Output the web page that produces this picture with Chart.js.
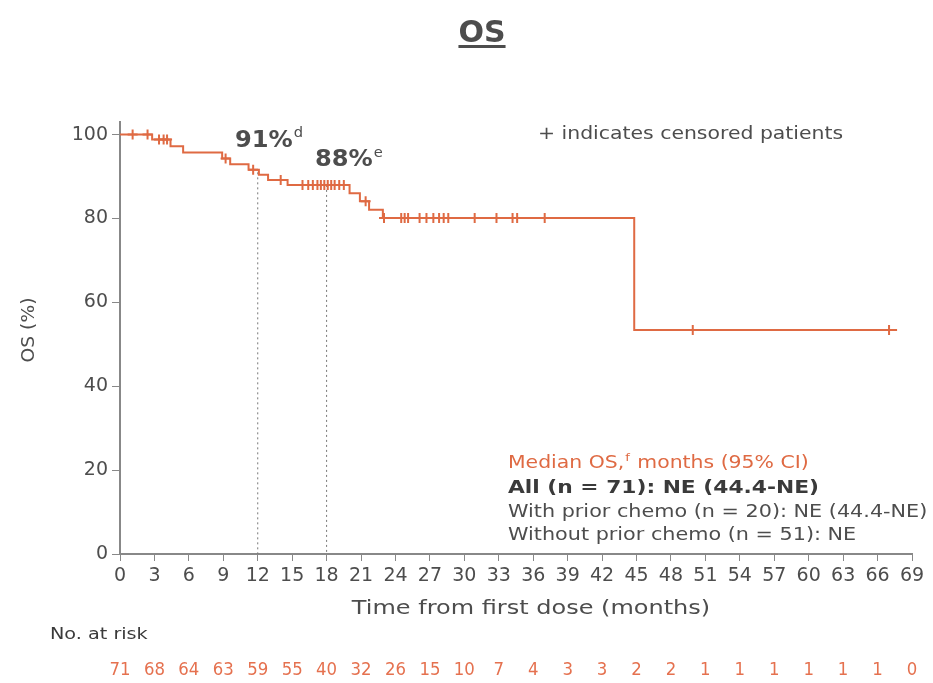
<!DOCTYPE html>
<html>
<head>
<meta charset="utf-8">
<script src="https://cdn.jsdelivr.net/npm/chart.js@4"></script>
<style>
  html, body { margin: 0; padding: 0; background: #fff; }
  #wrap { width: 933px; height: 683px; }
</style>
</head>
<body>
<div id="wrap"><canvas id="chart" width="933" height="683"></canvas></div>
<script>
// Kaplan-Meier steps (time in months, OS %)
const kmTimes = [0, 2.8, 4.4, 5.5, 8.9, 9.6, 11.2, 12.1, 12.9, 14.6, 20.0, 20.9, 21.7, 22.9, 44.8, 67.7];
const kmSurv  = [100, 98.8, 97.2, 95.7, 94.3, 92.9, 91.6, 90.4, 89.2, 88.0, 86.0, 84.1, 82.1, 80.1, 53.4, 53.4];

// censored patients
const censorTimes = [1.1, 2.4, 3.4, 3.8, 4.1, 9.2, 11.6, 14.0,
  15.9, 16.4, 16.8, 17.2, 17.5, 17.8, 18.1, 18.4, 18.7, 19.1, 19.5, 21.4,
  23.0, 24.5, 24.8, 25.1, 26.1, 26.7, 27.3, 27.8, 28.2, 28.6, 30.9, 32.8, 34.2, 34.6, 37.0,
  49.9, 67.0];
const censorSurv = [100, 100, 98.8, 98.8, 98.8, 94.3, 91.6, 89.2,
  88.0, 88.0, 88.0, 88.0, 88.0, 88.0, 88.0, 88.0, 88.0, 88.0, 88.0, 84.1,
  80.1, 80.1, 80.1, 80.1, 80.1, 80.1, 80.1, 80.1, 80.1, 80.1, 80.1, 80.1, 80.1, 80.1, 80.1,
  53.4, 53.4];

// landmark estimates
const landmarkTimes = [12, 18];
const landmarkSurv = [91, 88];
const landmarkLabels = ["91%", "88%"];
const landmarkNotes = ["d", "e"];

const xTicks = [0, 3, 6, 9, 12, 15, 18, 21, 24, 27, 30, 33, 36, 39, 42, 45, 48, 51, 54, 57, 60, 63, 66, 69];
const yTicks = [0, 20, 40, 60, 80, 100];
const atRisk = [71, 68, 64, 63, 59, 55, 40, 32, 26, 15, 10, 7, 4, 3, 3, 2, 2, 1, 1, 1, 1, 1, 1, 0];

const legendLines = [
  "All (n = 71): NE (44.4-NE)",
  "With prior chemo (n = 20): NE (44.4-NE)",
  "Without prior chemo (n = 51): NE"
];

const ORANGE = "#df6a43";
const GRAY = "#4d4d4d";
const FONT = "'DejaVu Sans', Verdana, sans-serif";
const STRETCH = 1.2;

function text(ctx, str, x, y, size, color, opts) {
  opts = opts || {};
  ctx.save();
  ctx.font = (opts.weight || "normal") + " " + size + "px " + FONT;
  ctx.fillStyle = color;
  ctx.textBaseline = "alphabetic";
  ctx.textAlign = opts.align || "left";
  ctx.translate(x, y);
  if (opts.rotate) ctx.rotate(opts.rotate);
  ctx.scale(opts.stretch || STRETCH, 1);
  ctx.fillText(str, 0, 0);
  const w = ctx.measureText(str).width * (opts.stretch || STRETCH);
  ctx.restore();
  return w;
}

const labelsPlugin = {
  id: "labels",
  afterDraw(chart) {
    const ctx = chart.ctx;
    const xs = chart.scales.x;

    // title
    const tw = text(ctx, "OS", 482, 42, 30, GRAY, {weight: "bold", align: "center", stretch: 1});
    ctx.fillStyle = GRAY;
    ctx.fillRect(482 - tw / 2, 45, tw, 3);

    // landmark labels
    let w = text(ctx, landmarkLabels[0], 235, 147, 23, GRAY, {weight: "bold", stretch: 1.05});
    text(ctx, landmarkNotes[0], 235 + w + 1, 137, 14, GRAY, {stretch: 1.05});
    w = text(ctx, landmarkLabels[1], 315, 166, 23, GRAY, {weight: "bold", stretch: 1.05});
    text(ctx, landmarkNotes[1], 315 + w + 1, 157, 14, GRAY, {stretch: 1.05});

    text(ctx, "+ indicates censored patients", 538, 139, 17, GRAY);

    // median box
    let x = 508;
    x += text(ctx, "Median OS,", x, 468, 17, ORANGE);
    x += text(ctx, "f", x + 1, 461, 11, ORANGE) + 2;
    text(ctx, " months (95% CI)", x, 468, 17, ORANGE);
    text(ctx, legendLines[0], 508, 493, 17, "#3a3a3a", {weight: "600", stretch: 1.28});
    text(ctx, legendLines[1], 508, 517, 17, GRAY, {stretch: 1.22});
    text(ctx, legendLines[2], 508, 540, 17, GRAY, {stretch: 1.22});

    // axis titles
    text(ctx, "Time from first dose (months)", 531, 614, 20, GRAY, {align: "center"});
    text(ctx, "OS (%)", 34, 330, 17, GRAY, {align: "center", rotate: -Math.PI / 2, stretch: 1.1});

    // number at risk
    text(ctx, "No. at risk", 50, 639, 16, "#3a3a3a");
    xTicks.forEach((t, i) => {
      text(ctx, String(atRisk[i]), xs.getPixelForValue(t), 675, 18, "#e5714f", {align: "center", stretch: 0.92});
    });
  }
};

const kmData = kmTimes.map((t, i) => ({x: t, y: kmSurv[i]}));
const censorData = censorTimes.map((t, i) => ({x: t, y: censorSurv[i]}));
const dashSets = landmarkTimes.map((t, i) => ({
  type: "line",
  data: [{x: t, y: landmarkSurv[i]}, {x: t, y: 0}],
  borderColor: "#777",
  borderWidth: 1,
  borderDash: [2, 3],
  pointRadius: 0
}));

new Chart(document.getElementById("chart"), {
  type: "line",
  data: {
    datasets: [
      {
        data: kmData,
        stepped: true,
        borderColor: ORANGE,
        borderWidth: 2,
        pointRadius: 0,
        fill: false
      },
      {
        type: "scatter",
        data: censorData,
        pointStyle: "cross",
        pointRadius: 5,
        borderColor: ORANGE,
        borderWidth: 2,
        backgroundColor: ORANGE
      },
      ...dashSets
    ]
  },
  options: {
    responsive: false,
    animation: false,
    layout: { padding: { left: 0, right: 21, top: 122, bottom: 0 } },
    plugins: { legend: { display: false }, title: { display: false }, tooltip: { enabled: false } },
    scales: {
      x: {
        type: "linear",
        min: 0,
        max: 69,
        afterBuildTicks: s => { s.ticks = xTicks.map(v => ({value: v})); },
        afterFit: s => { s.height = 129; },
        grid: { drawOnChartArea: false, drawTicks: true, tickLength: 7, color: "#888" },
        border: { display: true, color: "#888", width: 2 },
        ticks: { color: GRAY, font: { family: FONT, size: 19 }, padding: 4, maxRotation: 0, autoSkip: false }
      },
      y: {
        min: 0,
        max: 103,
        afterBuildTicks: s => { s.ticks = yTicks.map(v => ({value: v})); },
        afterFit: s => { s.width = 120; },
        grid: { drawOnChartArea: false, drawTicks: true, tickLength: 8, color: "#888" },
        border: { display: true, color: "#888", width: 2 },
        ticks: { color: GRAY, font: { family: FONT, size: 19 }, padding: 4 }
      }
    }
  },
  plugins: [labelsPlugin]
});
</script>
</body>
</html>
